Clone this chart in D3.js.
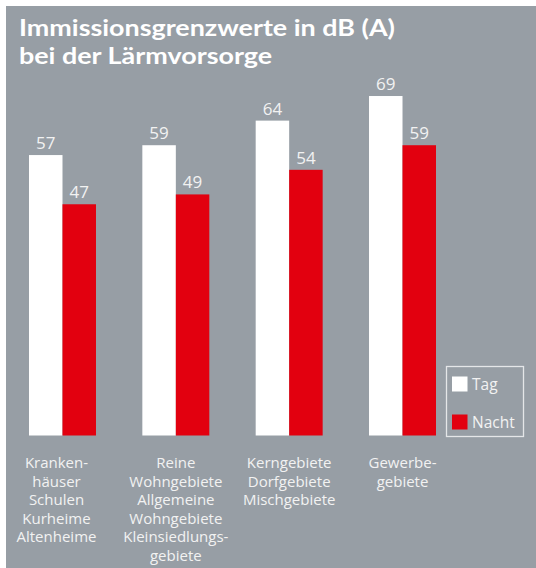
<!DOCTYPE html>
<html>
<head>
<meta charset="utf-8">
<script src="https://cdn.jsdelivr.net/npm/d3@7"></script>
<style>
  html, body { margin: 0; padding: 0; background: #ffffff; }
  svg { display: block; }
  text { font-family: "Open Sans", "Noto Sans", sans-serif; }
</style>
</head>
<body>
<svg id="chart" width="536" height="568"></svg>
<script>
const titleLines = ["Immissionsgrenzwerte in dB (A)", "bei der Lärmvorsorge"];
const categories = ["Krankenhäuser", "Wohngebiete", "Kerngebiete", "Gewerbegebiete"];
const categoryLabels = [
  ["Kranken-", "häuser", "Schulen", "Kurheime", "Altenheime"],
  ["Reine", "Wohngebiete", "Allgemeine", "Wohngebiete", "Kleinsiedlungs-", "gebiete"],
  ["Kerngebiete", "Dorfgebiete", "Mischgebiete"],
  ["Gewerbe-", "gebiete"]
];
const seriesNames = ["Tag", "Nacht"];
const tagValues = [57, 59, 64, 69];
const nachtValues = [47, 49, 54, 59];

const colors = { Tag: "#ffffff", Nacht: "#e2000f" };
const bg = "#979ea5";
const textLight = "#f2f2f2";

const svg = d3.select("#chart");

svg.append("rect").attr("x", 6).attr("y", 6).attr("width", 530).attr("height", 562).attr("fill", bg);

// Title
const title = svg.append("g");
titleLines.forEach((t, i) => {
  title.append("text")
    .attr("x", 19).attr("y", 36 + i * 28)
    .attr("fill", "#ffffff").attr("font-weight", 700).attr("font-size", 23)
    .style("font-family", "Lato, 'Open Sans', sans-serif")
    .text(t);
});
// fit title width to reference
(function(){
  const first = title.select("text").node();
  const w = first.getComputedTextLength();
  const k = 376 / w;
  title.selectAll("text").each(function(){
    const lw = this.getComputedTextLength();
    d3.select(this).attr("textLength", lw * k).attr("lengthAdjust", "spacingAndGlyphs");
  });
})();

const data = categories.map((c, i) => ({
  cat: c,
  values: [{ key: "Tag", v: tagValues[i] }, { key: "Nacht", v: nachtValues[i] }]
}));

const x0 = d3.scaleBand().domain(categories).range([29, 436]).paddingInner(0.409).paddingOuter(0);
const x1 = d3.scaleBand().domain(seriesNames).range([0, x0.bandwidth()]).padding(0);
const baseline = 435.5;
const y = d3.scaleLinear().domain([0, 70]).range([baseline, baseline - 70 * 4.92]);

const groups = svg.append("g").selectAll("g").data(data).join("g")
  .attr("transform", d => `translate(${x0(d.cat)},0)`);

groups.selectAll("rect").data(d => d.values).join("rect")
  .attr("x", d => x1(d.key))
  .attr("y", d => y(d.v))
  .attr("width", x1.bandwidth())
  .attr("height", d => y(0) - y(d.v))
  .attr("fill", d => colors[d.key]);

groups.selectAll("text.val").data(d => d.values).join("text")
  .attr("class", "val")
  .attr("x", d => x1(d.key) + x1.bandwidth() / 2)
  .attr("y", d => y(d.v) - 6)
  .attr("text-anchor", "middle")
  .attr("font-size", 17)
  .attr("fill", textLight)
  .text(d => d.v);

// Category labels
const catG = svg.append("g");
categories.forEach((c, i) => {
  const cx = x0(c) + x0.bandwidth() / 2 - (i === 0 ? 6 : 0);
  const t = catG.append("text")
    .attr("x", cx)
    .attr("y", 468)
    .attr("text-anchor", "middle")
    .attr("font-size", 15)
    .attr("fill", textLight);
  categoryLabels[i].forEach((line, j) => {
    t.append("tspan")
      .attr("x", cx)
      .attr("y", 468 + j * 18.5)
      .text(line);
  });
});

// Legend
const leg = svg.append("g");
leg.append("rect").attr("x", 446.5).attr("y", 366.5).attr("width", 77).attr("height", 70)
  .attr("fill", "none").attr("stroke", "#e4e6e8").attr("stroke-width", 1.3);
seriesNames.forEach((s, i) => {
  leg.append("rect").attr("x", 452).attr("y", 376.5 + i * 38).attr("width", 15.5).attr("height", 15)
    .attr("fill", colors[s]);
  leg.append("text").attr("x", 472).attr("y", 390 + i * 38)
    .attr("font-size", 15.5).attr("fill", textLight).text(s);
});
</script>
</body>
</html>
